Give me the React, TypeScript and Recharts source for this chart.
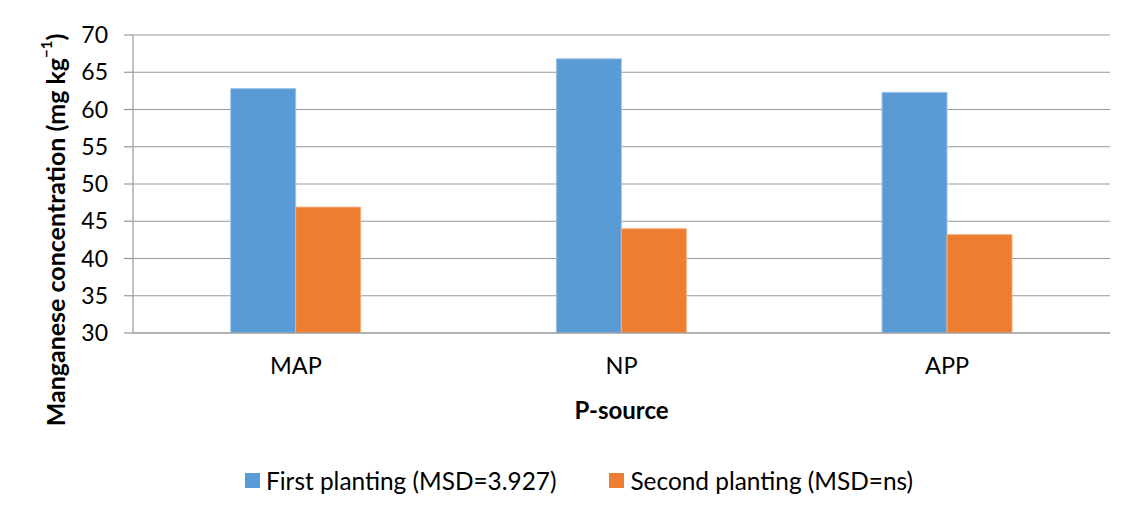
import React from "react";
import { BarChart, Bar, XAxis, YAxis, CartesianGrid, Legend } from "recharts";

const categories = ["MAP", "NP", "APP"];
const firstPlanting = [62.8, 66.8, 62.3];
const secondPlanting = [46.9, 44.0, 43.2];
const yTicks = [30, 35, 40, 45, 50, 55, 60, 65, 70];
const seriesNames = ["First planting (MSD=3.927)", "Second planting (MSD=ns)"];
const seriesColors = ["#5B9BD5", "#ED7D31"];

const data = categories.map((c, i) => ({
    source: c,
    first: firstPlanting[i],
    second: secondPlanting[i],
}));

const FONT = "Lato, 'Open Sans', sans-serif";
const GRID = "#9a9a9a";

function YTitle(props: any) {
    const { viewBox } = props;
    const cx = 47;
    const cy = viewBox.y + viewBox.height / 2 + 46;
    return (
        <text
            x={cx}
            y={cy}
            transform={`rotate(-90, ${cx}, ${cy})`}
            textAnchor="middle"
            dominantBaseline="central"
            fontFamily={FONT}
            fontWeight={700}
            fontSize={25}
            fill="#000"
        >
            Manganese concentration (mg kg
            <tspan dy={-9} fontSize={15}>−1</tspan>
            <tspan dy={9}>)</tspan>
        </text>
    );
}

function XTitle(props: any) {
    const { viewBox } = props;
    return (
        <text
            x={viewBox.x + viewBox.width / 2}
            y={viewBox.y + 76}
            textAnchor="middle"
            dominantBaseline="central"
            fontFamily={FONT}
            fontWeight={700}
            fontSize={24}
            fill="#000"
        >
            P-source
        </text>
    );
}

function renderLegend(props: any) {
    const { payload } = props;
    return (
        <div style={{ display: "flex", alignItems: "center", height: 72, paddingLeft: 237, fontFamily: FONT, fontSize: 24.4, color: "#000" }}>
            {payload.map((p: any) => (
                <div key={p.value} style={{ display: "flex", alignItems: "center", marginRight: 53 }}>
                    <div style={{ width: 15, height: 15, background: p.color, marginRight: 6 }} />
                    <span>{p.value}</span>
                </div>
            ))}
        </div>
    );
}

export default function App() {
    return (
        <div style={{ marginLeft: -2, marginTop: -2, width: 1130, height: 510, borderLeft: "2px solid #a6a6a6", borderTop: "1px solid #8c8c8c", background: "#fff" }}>
            <BarChart
                width={1128}
                height={509}
                data={data}
                margin={{ top: 28, right: 26, left: 0, bottom: 0 }}
                barCategoryGap="30%"
                barGap={0}
            >
                <CartesianGrid vertical={false} stroke={GRID} strokeWidth={1.2} />
                <XAxis
                    dataKey="source"
                    height={111}
                    tickLine={false}
                    tickSize={0}
                    tickMargin={24}
                    axisLine={{ stroke: GRID, strokeWidth: 1.2 }}
                    tick={{ fill: "#000", fontSize: 23.5, fontFamily: FONT }}
                    label={{ content: XTitle }}
                />
                <YAxis
                    width={125}
                    domain={[30, 70]}
                    ticks={yTicks}
                    allowDataOverflow
                    tickSize={9}
                    tickMargin={16}
                    tickLine={{ stroke: GRID, strokeWidth: 1.2 }}
                    axisLine={{ stroke: GRID, strokeWidth: 1.2 }}
                    tick={{ fill: "#000", fontSize: 23, fontFamily: FONT }}
                    label={{ content: YTitle }}
                />
                <Legend verticalAlign="bottom" content={renderLegend} wrapperStyle={{ left: 0, width: 1128 }} />
                <Bar dataKey="first" name={seriesNames[0]} fill={seriesColors[0]} stroke="#9cc3e6" strokeWidth={1} isAnimationActive={false} />
                <Bar dataKey="second" name={seriesNames[1]} fill={seriesColors[1]} stroke="#f4b183" strokeWidth={1} isAnimationActive={false} />
            </BarChart>
        </div>
    );
}
